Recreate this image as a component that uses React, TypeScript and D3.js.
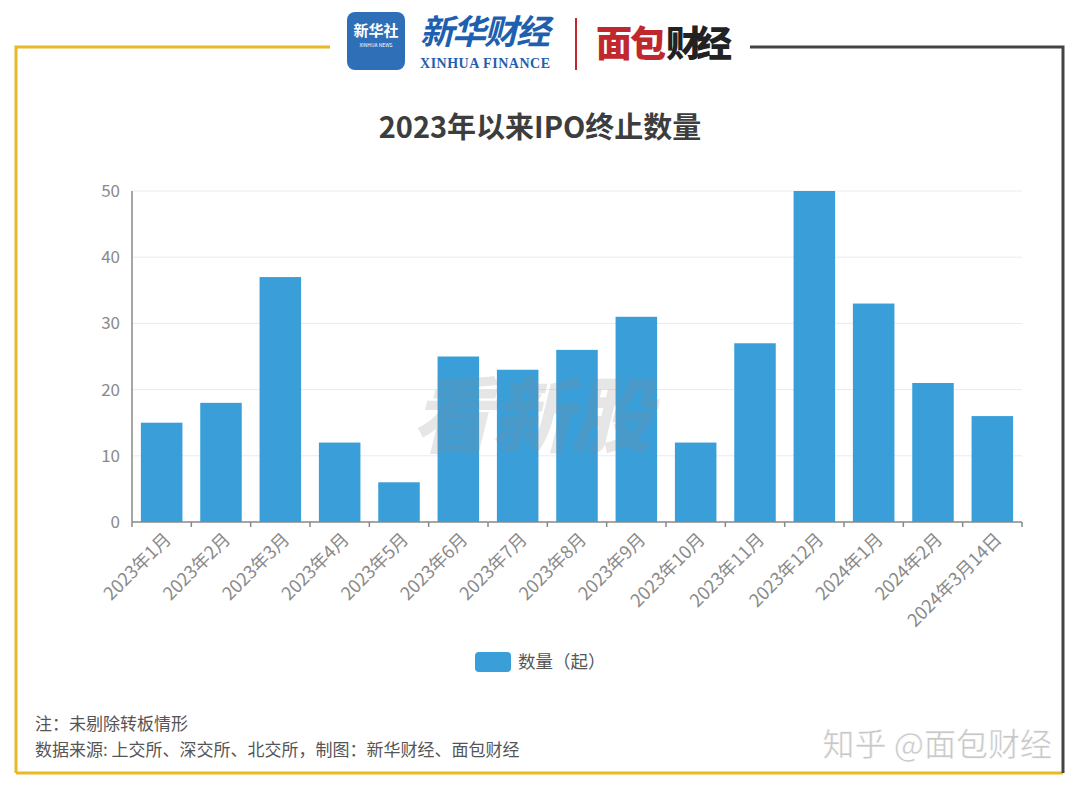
import React from "react";
import * as d3 from "d3";

const categories = ["2023年1月","2023年2月","2023年3月","2023年4月","2023年5月","2023年6月","2023年7月","2023年8月","2023年9月","2023年10月","2023年11月","2023年12月","2024年1月","2024年2月","2024年3月14日"];
const values = [15,18,37,12,6,25,23,26,31,12,27,50,33,21,16];
const yTicks = [0,10,20,30,40,50];
const title = "2023年以来IPO终止数量";
const seriesName = "数量（起）";
const note1 = "注：未剔除转板情形";
const note2 = "数据来源: 上交所、深交所、北交所，制图：新华财经、面包财经";

const W = 1080, H = 790;
const FONT = "'Noto Sans CJK SC', 'Open Sans', sans-serif";

export default function App() {
  const left = 132, right = 1022, top = 191, bottom = 522;
  const x = d3.scaleBand<string>().domain(categories).range([left, right]).paddingInner(0.3).paddingOuter(0.15);
  const xb = d3.scaleBand<string>().domain(categories).range([left, right]);
  const y = d3.scaleLinear().domain([0, 50]).range([bottom, top]);
  const barColor = "#3a9fd9";
  return (
    <svg width={W} height={H} style={{ position: "absolute", left: 0, top: 0, background: "#fff" }} fontFamily={FONT}>
      {/* frame */}
      <polyline points="330,47 16,47 16,773" fill="none" stroke="#e8b923" strokeWidth={3} />
      <line x1={16} y1={773} x2={1063} y2={773} stroke="#e8b923" strokeWidth={3} />
      <polyline points="750,47 1063,47 1063,773" fill="none" stroke="#444" strokeWidth={3} />
      {/* logos */}
      <rect x={347} y={12} width={58} height={58} rx={8} fill="#2f6fb8" />
      <text x={376} y={36} textAnchor="middle" fontSize={15} fill="#fff" fontWeight={700}>新华社</text>
      <text x={376} y={47} textAnchor="middle" fontSize={5} fill="#fff">XINHUA NEWS</text>
      <text x={420} y={44} fontSize={34} fill="#1f5fb0" fontWeight={700} fontStyle="italic" textLength={130}>新华财经</text>
      <text x={420} y={68} fontSize={14} fill="#1f5fb0" fontFamily="'Liberation Serif', serif" fontWeight={700} textLength={130}>XINHUA FINANCE</text>
      <line x1={576} y1={18} x2={576} y2={70} stroke="#c0282d" strokeWidth={2} />
      <text x={596} y={57} fontSize={36} fill="#c0282d" fontWeight={900} textLength={70}>面包</text>
      <text x={666} y={57} fontSize={36} fill="#222" fontWeight={900} textLength={66}>财经</text>
      {/* title */}
      <text x={540} y={138} textAnchor="middle" fontSize={29} fontWeight={700} fill="#3d3d3d">{title}</text>
      {/* grid */}
      {yTicks.map(t => (
        <g key={t}>
          {t > 0 && <line x1={left} x2={right} y1={y(t)} y2={y(t)} stroke="#e6ebf3" strokeWidth={1} />}
          <text x={left - 12} y={y(t)} dy="0.35em" textAnchor="end" fontSize={17} fill="#8a8a8a">{t}</text>
        </g>
      ))}
      {/* bars */}
      {categories.map((c, i) => (
        <rect key={c} x={x(c)} y={y(values[i])} width={x.bandwidth()} height={bottom - y(values[i])} fill={barColor} />
      ))}
      {/* watermark */}
      <text x={412} y={446} fontSize={82} fontWeight={900} fontStyle="italic" fill="#888" opacity={0.2} textLength={240} lengthAdjust="spacingAndGlyphs">看新股</text>
      {/* axes */}
      <line x1={left} x2={left} y1={top} y2={bottom} stroke="#888" strokeWidth={1.5} />
      <line x1={left} x2={right} y1={bottom} y2={bottom} stroke="#888" strokeWidth={1.5} />
      {categories.map(c => (
        <line key={"t" + c} x1={xb(c)} x2={xb(c)} y1={bottom} y2={bottom + 5} stroke="#888" strokeWidth={1.5} />
      ))}
      <line x1={right} x2={right} y1={bottom} y2={bottom + 5} stroke="#888" strokeWidth={1.5} />
      {categories.map(c => {
        const cx = (xb(c) as number) + xb.bandwidth() / 2 + 6;
        const cy = bottom + 14;
        return (
          <text key={"l" + c} x={cx} y={cy} textAnchor="end" fontSize={18} fill="#8a8a8a" transform={`rotate(-45 ${cx} ${cy})`} dy="0.35em">{c}</text>
        );
      })}
      {/* legend */}
      <rect x={475} y={652} width={36} height={20} rx={4} fill={barColor} />
      <text x={518} y={662} dy="0.35em" fontSize={17.5} fill="#555">{seriesName}</text>
      {/* footer */}
      <text x={35} y={724} dy="0.35em" fontSize={17} fill="#555">{note1}</text>
      <text x={35} y={750} dy="0.35em" fontSize={17} fill="#555">{note2}</text>
      <text x={1052} y={756} textAnchor="end" fontSize={32} fill="#c8c8c8" stroke="#fff" strokeWidth={0.5}>知乎 @面包财经</text>
    </svg>
  );
}
